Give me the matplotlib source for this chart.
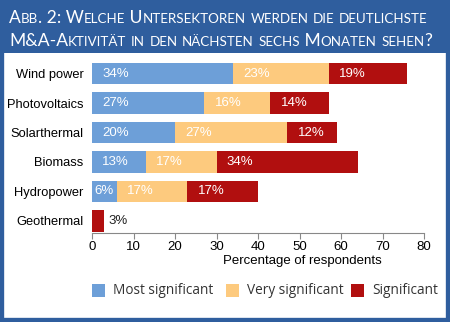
import numpy as np
import matplotlib.pyplot as plt
from matplotlib.patches import Rectangle

# data
sectors = ["Wind power", "Photovoltaics", "Solarthermal", "Biomass", "Hydropower", "Geothermal"]
most_sig = [34, 27, 20, 13, 6, 0]
very_sig = [23, 16, 27, 17, 17, 0]
sig = [19, 14, 12, 34, 17, 3]
series_names = ["Most significant", "Very significant", "Significant"]
colors = ["#6d9fd8", "#fdca7e", "#b10f0f"]
title_lines = ["Abb. 2: Welche Untersektoren werden die deutlichste",
               "M&A-Aktivität in den nächsten sechs Monaten sehen?"]

plt.rcParams['font.family'] = ['Liberation Sans', 'DejaVu Sans']

W, H = 450, 322
fig = plt.figure(figsize=(W / 100, H / 100), dpi=100)

# frame + header band
fig.patches.append(Rectangle((0, 0), 1, 1, transform=fig.transFigure,
                             facecolor="white", edgecolor="#2f5e9e", linewidth=6, zorder=-2))
fig.patches.append(Rectangle((0, 1 - 53 / H), 1, 53 / H, transform=fig.transFigure,
                             facecolor="#2f5e9e", edgecolor="none", zorder=-1))

# bars
ax = fig.add_axes([92 / W, 89 / H, 332 / W, 173 / H])
y = np.arange(len(sectors))
left = np.zeros(len(sectors))
for vals, name, c in zip([most_sig, very_sig, sig], series_names, colors):
    vals = np.array(vals)
    ax.barh(y, vals, left=left, height=0.73, color=c, label=name)
    for yi, (l, v) in enumerate(zip(left, vals)):
        if v == 0:
            continue
        if v < 5:
            ax.annotate(f"{v}%", (l + v, yi), xytext=(3, 0), textcoords="offset points",
                        va="center", ha="left", fontsize=9.5, color="#222222")
        else:
            off = 1.5 if v < 8 else 7.5
            ax.annotate(f"{v}%", (l, yi), xytext=(off, 0), textcoords="offset points",
                        va="center", ha="left", fontsize=9.5, color="white")
    left = left + vals

ax.set_xlim(0, 80)
ax.set_ylim(5.41, -0.46)
ax.set_yticks(y)
ax.set_yticklabels(sectors, fontsize=9.3)
ax.set_xticks(np.arange(0, 81, 10))
ax.tick_params(axis="x", labelsize=9.5, color="#888888", length=4, direction="out", pad=2)
ax.tick_params(axis="y", length=0, pad=6)
for s in ["top", "right", "left"]:
    ax.spines[s].set_visible(False)
ax.spines["bottom"].set_color("#888888")
ax.set_xlabel("Percentage of respondents", fontsize=9.5, x=0.633, labelpad=1)

# legend drawn by hand
handles_x = [92, 226, 351]
for hx, name, c in zip(handles_x, series_names, colors):
    fig.patches.append(Rectangle((hx / W, 1 - 297 / H), 13 / W, 13 / H,
                                 transform=fig.transFigure, facecolor=c, edgecolor="none"))
    fig.text((hx + 21) / W, 1 - 291 / H, name, fontsize=9.8, color="#333333",
             va="center", ha="left", family="Open Sans")

# title in small caps
fig.canvas.draw()
r = fig.canvas.get_renderer()


def smallcaps(x, yy, s, big=12.6, small=9.6):
    runs = []
    for ch in s:
        low = ch.islower()
        if runs and runs[-1][1] == low:
            runs[-1][0] += ch
        else:
            runs.append([ch, low])
    for txt, low in runs:
        t = fig.text(x, yy, txt.upper(), fontsize=small if low else big, color="white",
                     family="Lato", va="baseline", ha="left")
        bb = t.get_window_extent(r)
        x += bb.width / W


smallcaps(9 / W, 1 - 23 / H, title_lines[0])
smallcaps(9 / W, 1 - 46 / H, title_lines[1])

fig.savefig("out.png", dpi=100)
